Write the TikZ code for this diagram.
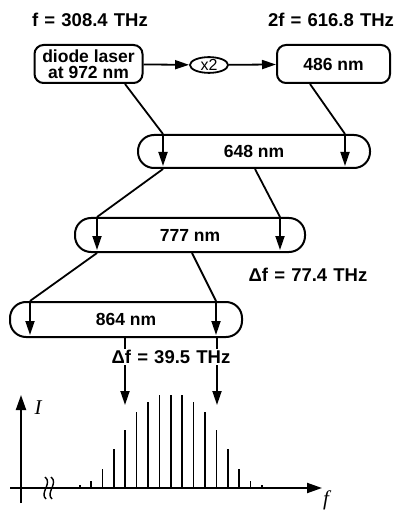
\documentclass[tikz,border=0pt]{standalone}
\usepackage{fontspec}
\setmainfont{Liberation Sans}
\newfontfamily\hdrfont[WordSpace=1.2]{Liberation Sans}
\newfontfamily\serifit{Liberation Serif}
\usetikzlibrary{arrows.meta,shapes.geometric,calc}
\begin{document}
\begin{tikzpicture}[x=1pt,y=-1pt,
  txt/.style={font=\bfseries\fontsize{17.5}{16}\selectfont},
  hdr/.style={font=\hdrfont\bfseries\fontsize{18.5}{18}\selectfont},
  box/.style={txt,draw,line width=2pt,rounded corners=9pt,align=center,inner sep=0pt},
  pill/.style={txt,draw,line width=2pt,rounded corners=16pt,inner sep=0pt},
  conn/.style={line width=1.8pt},
  arr/.style={conn,-{Triangle[length=14pt,width=9pt]}},
  spec/.style={line width=1.7pt},
  ax/.style={line width=2pt,-{Triangle[length=15pt,width=10pt]}},
]
\useasboundingbox (0,0) rectangle (395,510);

% labels
\node[hdr] (lf) at (90,20) {f = 308.4 THz};
\node[hdr] (l2f) at (331,20) {2f = 616.8 THz};

% boxes
\node[box,minimum width=108pt,minimum height=38pt] (diode) at (88.5,64) {diode laser\\at 972 nm};
\node[draw,ellipse,line width=1.8pt,minimum width=38pt,minimum height=15pt,inner sep=0pt,font=\fontsize{16}{16}\selectfont] (x2) at (209,65) {x2};
\node[box,minimum width=113pt,minimum height=38pt] (b486) at (333.5,64) {486 nm};
\node[pill,minimum width=232pt,minimum height=33pt] (b648) at (254,151.5) {648 nm};
\node[pill,minimum width=230pt,minimum height=34pt] (b777) at (190,235) {777 nm};
\node[pill,minimum width=232pt,minimum height=35pt] (b864) at (126,319.5) {864 nm};

\node[hdr] (d77) at (308,275) {Δf = 77.4 THz};
\node[hdr,inner sep=1pt] (d39) at (171,357) {Δf = 39.5 THz};

% horizontal arrows
\draw[arr] (diode) -- (x2);
\draw[arr] (x2) -- (b486);

% to 648
\draw[conn] ([xshift=36.5pt]diode.south) -- ([xshift=-91pt]b648.north);
\draw[arr] ([xshift=-91pt]b648.north) -- ([xshift=-91pt,yshift=3pt]b648.south);
\draw[conn] ([xshift=-23.5pt]b486.south) -- ([xshift=91pt]b648.north);
\draw[arr] ([xshift=91pt]b648.north) -- ([xshift=91pt,yshift=3pt]b648.south);

% to 777
\draw[conn] ([xshift=-91pt]b648.south) -- ([xshift=-93pt]b777.north);
\draw[arr] ([xshift=-93pt]b777.north) -- ([xshift=-93pt,yshift=3pt]b777.south);
\draw[conn] ([xshift=1pt]b648.south) -- ([xshift=90pt]b777.north);
\draw[arr] ([xshift=90pt]b777.north) -- ([xshift=90pt,yshift=3pt]b777.south);

% to 864
\draw[conn] ([xshift=-93pt]b777.south) -- ([xshift=-96pt]b864.north);
\draw[arr] ([xshift=-96pt]b864.north) -- ([xshift=-96pt,yshift=3pt]b864.south);
\draw[conn] ([xshift=2pt]b777.south) -- ([xshift=90pt]b864.north);
\draw[arr] ([xshift=90pt]b864.north) -- ([xshift=90pt,yshift=3pt]b864.south);

% below 864
\coordinate (t1) at (125,405);
\coordinate (t2) at (217,405);
\draw[conn] (b864.south -| t1) -- (d39.north -| t1);
\draw[conn] (b864.south -| t2) -- (d39.north -| t2);
\draw[arr] (d39.south -| t1) -- (t1);
\draw[arr] (d39.south -| t2) -- (t2);

% spectrum axes
\coordinate (h0) at (10,488);
\coordinate (h1) at (322,488);
\coordinate (v0) at (21,503);
\coordinate (v1) at (21,395);
\draw[ax] (h0) -- (h1);
\draw[ax] (v0) -- (v1);
\node[font=\serifit\itshape\fontsize{21}{21}\selectfont] (Il) at (38,408) {I};
\node[font=\serifit\itshape\fontsize{21}{21}\selectfont] (fl) at (326,500) {f};
% break marks
\draw[line width=1.4pt] (45,477) .. controls (53,483) and (39,493) .. (46,499);
\draw[line width=1.4pt] (51,477) .. controls (59,483) and (45,493) .. (52,499);

% spectral lines
\foreach \k/\h in {0/93,1/93,-1/93,2/86,-2/86,3/76,-3/76,4/58,-4/58,5/39,-5/39,6/19,-6/19,7/7,-7/7,8/3.5,-8/3.5,9/1.5,-9/1.5}{
  \draw[spec] (170.8+\k*11.39,488) -- ++(0,-\h);
}
\end{tikzpicture}
\end{document}
